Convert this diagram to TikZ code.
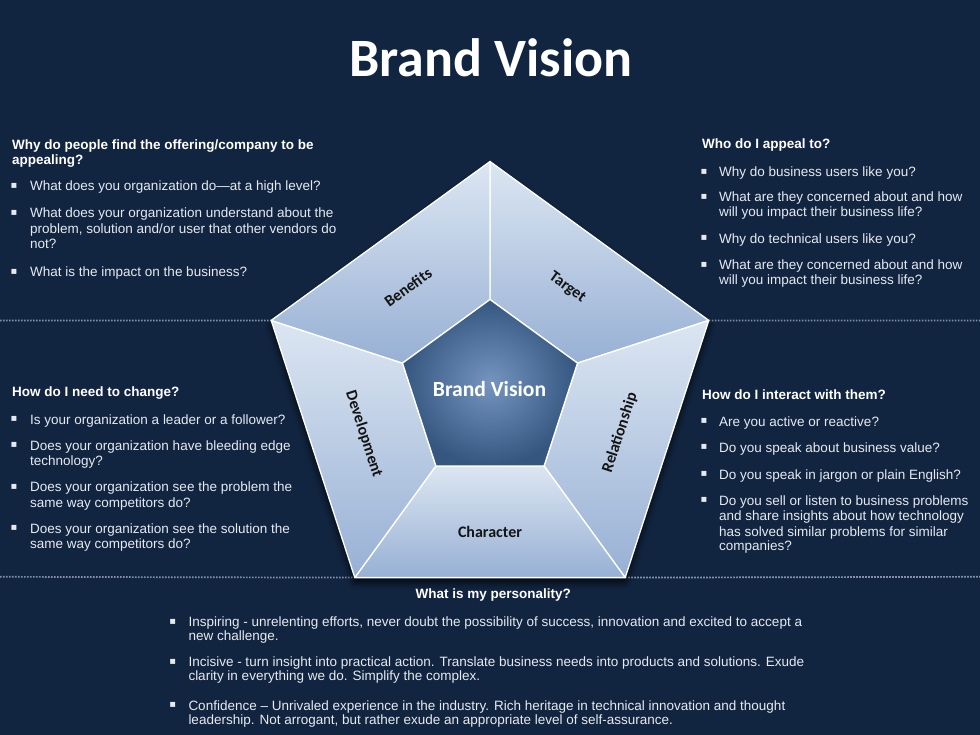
\documentclass[tikz,border=0pt]{standalone}
\usepackage{fontspec}
\setmainfont{Liberation Sans}
\newfontfamily\calib{Carlito}
\newfontfamily\symf{DejaVu Sans}
\usetikzlibrary{shadows.blur}
\definecolor{bg}{HTML}{122540}
\definecolor{txt}{HTML}{E6EAF0}
\definecolor{segtop}{HTML}{DCE6F2}
\definecolor{segbot}{HTML}{97B0D4}
\definecolor{innc}{HTML}{7595C0}
\definecolor{outc}{HTML}{34567F}
\definecolor{dotc}{HTML}{8391A8}
\definecolor{lblc}{HTML}{141414}
\newcommand\bitem[5]{%
  \node[body] (t#1) at (#3,#4) {#5};
  \node[blt] (b#1) at (#2,#4-5.2) {▪};}
\newcommand\contline[4]{\node[body] (t#1) at (#2,#3) {#4};}
\begin{document}
\begin{tikzpicture}[x=1pt,y=-1pt,
  body/.style={font=\fontsize{13.5}{16}\selectfont, text=txt, inner sep=0pt, anchor=base west},
  head/.style={font=\bfseries\fontsize{13.5}{16}\selectfont, text=white, inner sep=0pt, anchor=base west},
  blt/.style={font=\symf\fontsize{10}{10}\selectfont, text=txt, inner sep=0pt, anchor=center},
  seg/.style={top color=segtop, bottom color=segbot, draw=white, line width=1.3pt, line join=round},
  lbl/.style={font=\calib\bfseries\fontsize{16}{18}\selectfont, text=lblc, inner sep=0pt},
  dotl/.style={draw=dotc, line width=1.7pt, dash pattern=on 1.6pt off 1.4pt}]
\useasboundingbox (0,0) rectangle (980,735);
\fill[bg] (0,0) rectangle (980,735);

% pentagon coordinates
\coordinate (O0) at (490,161.5);
\coordinate (O1) at (708.8,320.4);
\coordinate (O2) at (625.2,577.6);
\coordinate (O3) at (354.8,577.6);
\coordinate (O4) at (271.2,320.4);
\coordinate (I0) at (490,299.5);
\coordinate (I1) at (577.5,363.1);
\coordinate (I2) at (544.1,465.9);
\coordinate (I3) at (435.9,465.9);
\coordinate (I4) at (402.5,363.1);

% dotted separators
\coordinate (dl1) at (0,320.5);
\coordinate (dr1) at (980,320.5);
\coordinate (dl2) at (0,576.8);
\coordinate (dr2) at (980,576.8);
\draw[dotl] (dl1) -- (O4);
\draw[dotl] (O1) -- (dr1);
\draw[dotl] (dl2) -- (O3);
\draw[dotl] (O2) -- (dr2);

% shadow + segments
\fill[bg, blur shadow={shadow xshift=0pt, shadow yshift=-5pt, shadow blur radius=7pt, shadow opacity=80}]
  (O0) -- (O1) -- (O2) -- (O3) -- (O4) -- cycle;
\path[seg] (O0) -- (O1) -- (I1) -- (I0) -- cycle;
\path[seg] (O1) -- (O2) -- (I2) -- (I1) -- cycle;
\path[seg] (O2) -- (O3) -- (I3) -- (I2) -- cycle;
\path[seg] (O3) -- (O4) -- (I4) -- (I3) -- cycle;
\path[seg] (O4) -- (O0) -- (I0) -- (I4) -- cycle;
\path[inner color=innc, outer color=outc, draw=white, line width=1.3pt, line join=round]
  (I0) -- (I1) -- (I2) -- (I3) -- (I4) -- cycle;

% segment labels
\node[lbl, rotate=36] (benefits) at (408,287.3) {Benefits};
\node[lbl, rotate=-36] (target) at (567.3,287.7) {Target};
\node[lbl, rotate=72] (relationship) at (620,432.7) {Relationship};
\node[lbl, rotate=-72] (development) at (363.8,434) {Development};
\node[lbl, anchor=base] (character) at (490,537.3) {Character};
\node[font=\calib\bfseries\fontsize{21.6}{24}\selectfont, text=white, inner sep=0pt, anchor=base] (center) at (489.5,396.7) {Brand Vision};

% title
\node[font=\calib\bfseries\fontsize{54}{58}\selectfont, text=white, anchor=base, inner sep=0pt] (title) at (491,77) {Brand Vision};

% top-left block
\node[head] (h1a) at (12,149.3) {Why do people find the offering/company to be};
\node[head] (h1b) at (12,165) {appealing?};
\bitem{11}{14}{30}{191}{What does you organization do—at a high level?}
\bitem{12}{14}{30}{217.7}{What does your organization understand about the}
\contline{12b}{30}{233.3}{problem, solution and/or user that other vendors do}
\contline{12c}{30}{248.6}{not?}
\bitem{13}{14}{30}{276.7}{What is the impact on the business?}

% top-right block
\node[head] (h2) at (702,148.3) {Who do I appeal to?};
\bitem{21}{704}{719}{176.7}{Why do business users like you?}
\bitem{22}{704}{719}{201.7}{What are they concerned about and how}
\contline{22b}{719}{216.7}{will you impact their business life?}
\bitem{23}{704}{719}{243.3}{Why do technical users like you?}
\bitem{24}{704}{719}{270}{What are they concerned about and how}
\contline{24b}{719}{285}{will you impact their business life?}

% middle-left block
\node[head] (h3) at (12,396.7) {How do I need to change?};
\bitem{31}{14}{30}{424}{Is your organization a leader or a follower?}
\bitem{32}{14}{30}{450}{Does your organization have bleeding edge}
\contline{32b}{30}{465.7}{technology?}
\bitem{33}{14}{30}{491.7}{Does your organization see the problem the}
\contline{33b}{30}{507.3}{same way competitors do?}
\bitem{34}{14}{30}{533.3}{Does your organization see the solution the}
\contline{34b}{30}{548.3}{same way competitors do?}

% middle-right block
\node[head] (h4) at (702,399.3) {How do I interact with them?};
\bitem{41}{704}{719}{426}{Are you active or reactive?}
\bitem{42}{704}{719}{452.3}{Do you speak about business value?}
\bitem{43}{704}{719}{479}{Do you speak in jargon or plain English?}
\bitem{44}{704}{719}{505}{Do you sell or listen to business problems}
\contline{44b}{719}{520.7}{and share insights about how technology}
\contline{44c}{719}{536}{has solved similar problems for similar}
\contline{44d}{719}{550.5}{companies?}

% bottom block
\node[head, anchor=base] (h5) at (493.3,598.3) {What is my personality?};
\bitem{51}{172.7}{188.3}{626.7}{Inspiring - unrelenting efforts, never doubt the possibility of success, innovation and excited to accept a}
\contline{51b}{188.3}{640.5}{new challenge.}
\bitem{52}{172.7}{188.3}{666.7}{Incisive - turn insight into practical action. Translate business needs into products and solutions. Exude}
\contline{52b}{188.3}{680.3}{clarity in everything we do. Simplify the complex.}
\bitem{53}{172.7}{188.3}{710}{Confidence – Unrivaled experience in the industry. Rich heritage in technical innovation and thought}
\contline{53b}{188.3}{724}{leadership. Not arrogant, but rather exude an appropriate level of self-assurance.}
\end{tikzpicture}
\end{document}
